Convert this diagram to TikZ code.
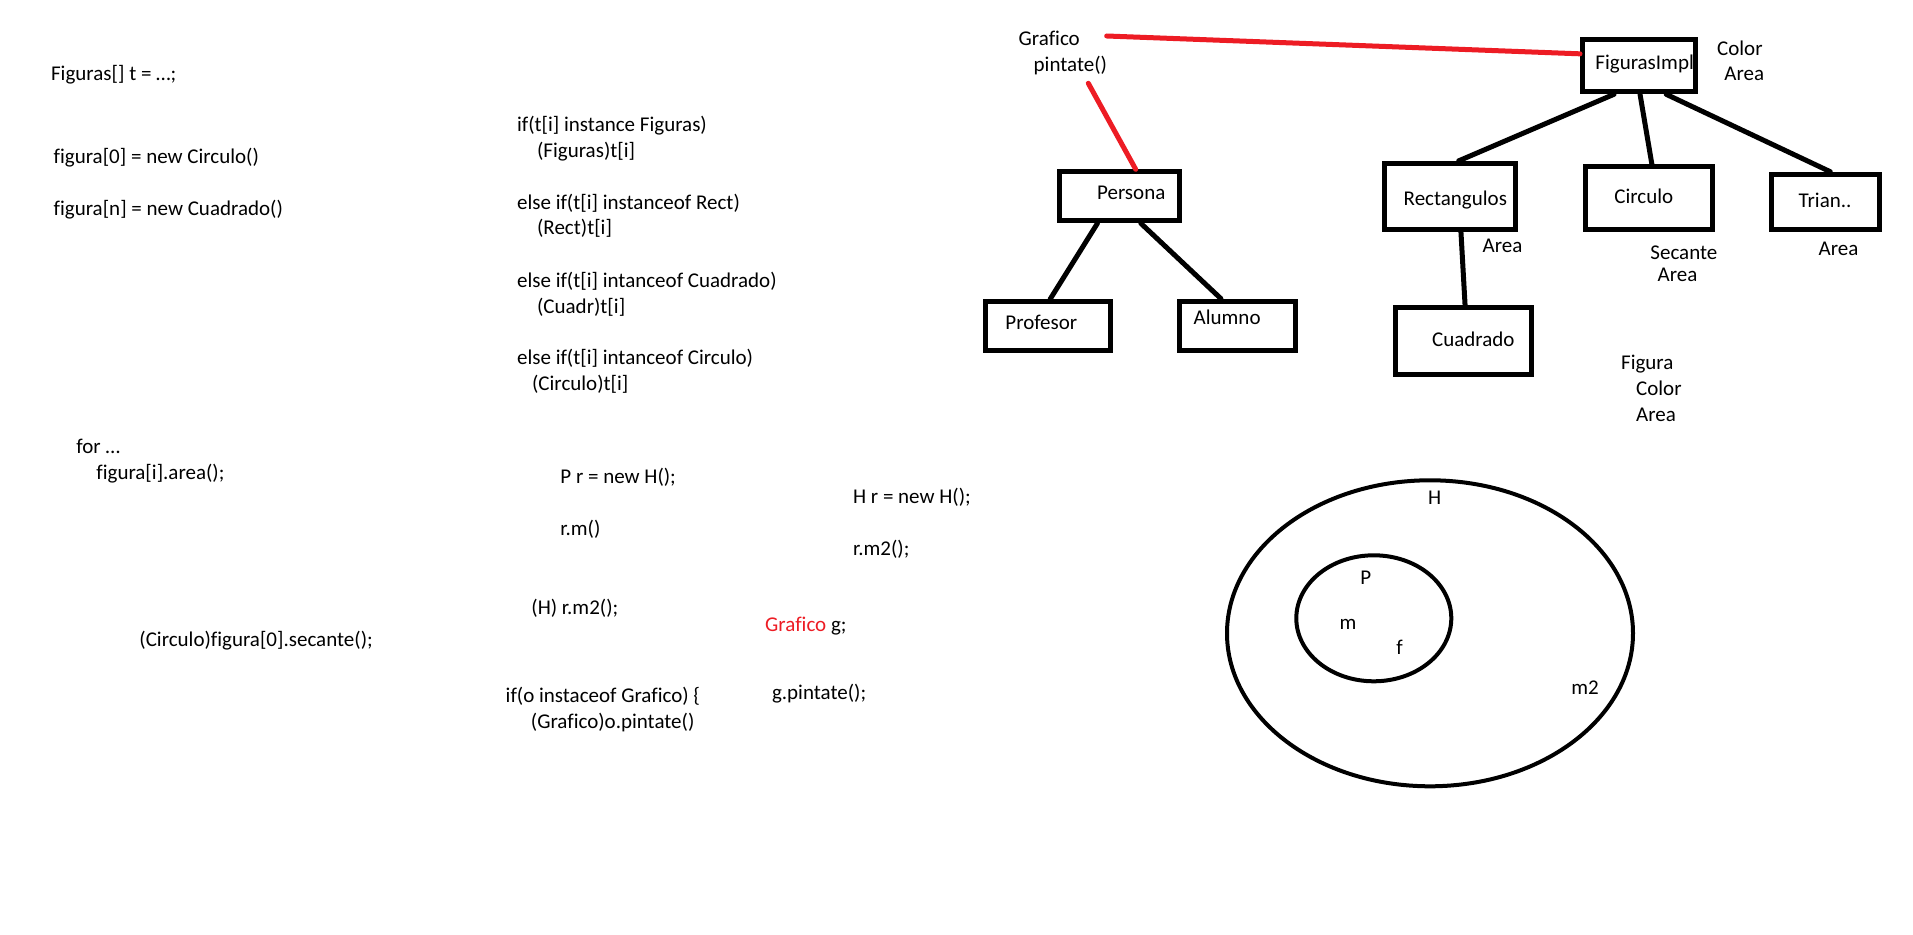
\documentclass[tikz,border=0pt]{standalone}
\usepackage{fontspec}
\setmainfont{Carlito}[Ligatures=NoCommon]
\usetikzlibrary{calc}
\definecolor{pred}{RGB}{237,28,36}
\begin{document}
\begin{tikzpicture}[x=0.5pt,y=-0.5pt,
  txt/.style={anchor=base west, inner sep=0pt, font=\fontsize{10.5pt}{13pt}\selectfont},
  box/.style={draw, line width=2.5pt, inner sep=0pt},
  link/.style={line width=2.5pt, line cap=round},
  redlink/.style={link, draw=pred},
  ring/.style={line width=2pt}]
\useasboundingbox[fill=white] (0,0) rectangle (1913,935);

% ---------------- left column code
\node[txt] (l1) at (50.7,80.7) {Figuras[] t = …;};
\node[txt] (l2) at (53.3,164) {figura[0] = new Circulo()};
\node[txt] (l3) at (53.3,216) {figura[n] = new Cuadrado()};
\node[txt] (l4) at (76,453.3) {for …};
\node[txt] (l5) at (96,480) {figura[i].area();};
\node[txt] (l6) at (139,646.7) {(Circulo)figura[0].secante();};

% ---------------- middle column code
\node[txt] (m1) at (516.7,131.7) {if(t[i] instance Figuras)};
\node[txt] (m2) at (536.7,157.7) {(Figuras)t[i]};
\node[txt] (m3) at (516.7,209.3) {else if(t[i] instanceof Rect)};
\node[txt] (m4) at (536.7,235) {(Rect)t[i]};
\node[txt] (m5) at (516.7,287.3) {else if(t[i] intanceof Cuadrado)};
\node[txt] (m6) at (536.7,313.3) {(Cuadr)t[i]};
\node[txt] (m7) at (516.7,365) {else if(t[i] intanceof Circulo)};
\node[txt] (m8) at (531.7,391) {(Circulo)t[i]};
\node[txt] (m9) at (560,484) {P r = new H();};
\node[txt] (m10) at (560,536) {r.m()};
\node[txt] (m11) at (531,614.3) {(H) r.m2();};
\node[txt] (m12) at (505.3,702.3) {if(o instaceof Grafico) \{};
\node[txt] (m13) at (530.5,728.3) {(Grafico)o.pintate()};

\node[txt] (r1) at (852.7,503.3) {H r = new H();};
\node[txt] (r2) at (852.7,555.7) {r.m2();};
\node[txt] (r3) at (764.8,631.7) {{\color{pred}Grafico} g;};
\node[txt] (r4) at (771.6,699) {g.pintate();};

% ---------------- hierarchy boxes
\node[box, minimum width=56.7pt, minimum height=26pt]   (figimpl)  at (1639.2,65.8) {};
\node[box, minimum width=60pt,   minimum height=24.5pt] (persona)  at (1119.2,196.3) {};
\node[box, minimum width=62.5pt, minimum height=24.5pt] (profesor) at (1047.7,326.3) {};
\node[box, minimum width=58.3pt, minimum height=24.8pt] (alumno)   at (1237.5,326) {};
\node[box, minimum width=65.8pt, minimum height=32.9pt] (rect)     at (1450,196.3) {};
\node[box, minimum width=63.3pt, minimum height=31.7pt] (circulo)  at (1649.2,198.2) {};
\node[box, minimum width=53.7pt, minimum height=27.8pt] (trian)    at (1825.5,202) {};
\node[box, minimum width=68.3pt, minimum height=33.7pt] (cuadrado) at (1463.5,341.2) {};

\node[txt] (tfigimpl)  at (1595,70)      {FigurasImpl};
\node[txt] (tpersona)  at (1096.7,199.3) {Persona};
\node[txt] (tprofesor) at (1005,329.3)   {Profesor};
\node[txt] (talumno)   at (1193.3,324.3) {Alumno};
\node[txt] (trect)     at (1403.3,206)   {Rectangulos};
\node[txt] (tcirculo)  at (1614,203.5)   {Circulo};
\node[txt] (ttrian)    at (1798.3,207.3) {Trian..};
\node[txt] (tcuadrado) at (1431.7,346.7) {Cuadrado};

% side notes
\node[txt] (grafico) at (1018.3,45.7) {Grafico};
\node[txt] (pintate) at (1033.3,71.7) {pintate()};
\node[txt] (fcolor)  at (1716.7,56)   {Color};
\node[txt] (farea)   at (1724,80.7)   {Area};
\node[txt] (rarea)   at (1482.3,252.7) {Area};
\node[txt] (csec)    at (1650,260)    {Secante};
\node[txt] (carea)   at (1657.3,281.7) {Area};
\node[txt] (tarea)   at (1818.3,255.3) {Area};
\node[txt] (nfig)    at (1620.7,370)  {Figura};
\node[txt] (ncolor)  at (1635.7,396)  {Color};
\node[txt] (narea)   at (1635.7,421.7) {Area};

% connectors
\draw[link] ($(figimpl.south west)!0.287!(figimpl.south east)$) -- ($(rect.north west)!0.563!(rect.north east)$);
\draw[link] ($(figimpl.south west)!0.507!(figimpl.south east)$) -- ($(circulo.north west)!0.52!(circulo.north east)$);
\draw[link] ($(figimpl.south west)!0.728!(figimpl.south east)$) -- ($(trian.north west)!0.542!(trian.north east)$);
\draw[link] ($(rect.south west)!0.58!(rect.south east)$) -- ($(cuadrado.north west)!0.511!(cuadrado.north east)$);
\draw[link] ($(persona.south west)!0.326!(persona.south east)$) -- ($(profesor.north west)!0.518!(profesor.north east)$);
\draw[link] ($(persona.south west)!0.673!(persona.south east)$) -- ($(alumno.north west)!0.364!(alumno.north east)$);

\coordinate (gA) at (1106.7,36);
\coordinate (gB) at (1088.3,83.3);
\draw[redlink] (gA) -- ($(figimpl.north west)!0.29!(figimpl.south west)$);
\draw[redlink] (gB) -- ($(persona.north west)!0.632!(persona.north east)$);

% ellipses
\draw[ring] (1430,633.3) ellipse [x radius=101.5pt, y radius=76.5pt];
\draw[ring] (1373.8,618.3) ellipse [x radius=38.75pt, y radius=31.5pt];
\node[txt] (eh)  at (1427.7,505)   {H};
\node[txt] (ep)  at (1360,585)     {P};
\node[txt] (em)  at (1339.3,629.3) {m};
\node[txt] (ef)  at (1396,654.3)   {f};
\node[txt] (em2) at (1571,694)     {m2};
\end{tikzpicture}
\end{document}
